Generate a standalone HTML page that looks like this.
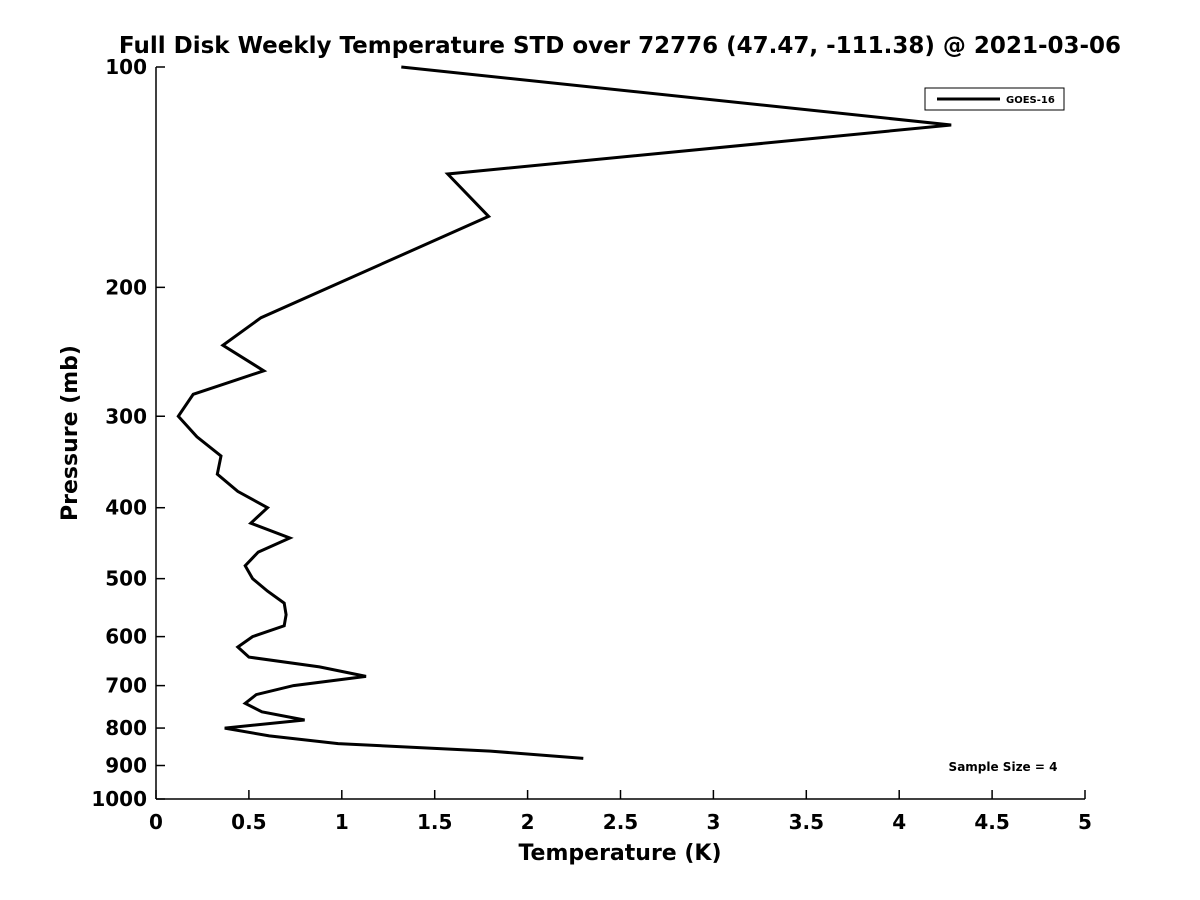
<!DOCTYPE html>
<html><head><meta charset="utf-8"><style>
body{margin:0;background:#fff;}
svg{display:block;font-family:"DejaVu Sans","Liberation Sans",sans-serif;font-weight:bold;}
</style></head><body>
<svg id="chart" width="1200" height="900" viewBox="0 0 1200 900">
<rect width="1200" height="900" fill="#fff"/>
<text x="620" y="53" text-anchor="middle" font-size="23">Full Disk Weekly Temperature STD over 72776 (47.47, -111.38) @ 2021-03-06</text>
<g id="axes"></g>
<path id="series" fill="none" stroke="#000" stroke-width="3" stroke-linejoin="miter"/>
<text x="620" y="860" text-anchor="middle" font-size="22">Temperature (K)</text>
<text transform="translate(77,433) rotate(-90)" text-anchor="middle" font-size="22">Pressure (mb)</text>
<g>
<rect x="925" y="88" width="139" height="22" fill="#fff" stroke="#000" stroke-width="1"/>
<line x1="937" y1="99" x2="1000" y2="99" stroke="#000" stroke-width="3"/>
<text x="1006" y="103" font-size="10">GOES-16</text>
</g>
<text x="1003" y="771" text-anchor="middle" font-size="12">Sample Size = 4</text>
</svg>
<script>
const pressures=[100,120,140,160,220,240,260,280,300,320,340,360,380,400,420,440,460,480,500,520,540,560,580,600,620,640,660,680,700,720,740,760,780,800,820,840,860,880];
const temps=[1.32,4.28,1.57,1.79,0.565,0.36,0.58,0.20,0.12,0.22,0.35,0.33,0.44,0.60,0.51,0.72,0.55,0.48,0.52,0.60,0.69,0.70,0.69,0.52,0.44,0.50,0.88,1.13,0.74,0.54,0.48,0.57,0.80,0.37,0.61,0.98,1.80,2.30];
const xTicks=[0,0.5,1,1.5,2,2.5,3,3.5,4,4.5,5];
const xTickLabels=["0","0.5","1","1.5","2","2.5","3","3.5","4","4.5","5"];
const yTicks=[100,200,300,400,500,600,700,800,900,1000];
const x0=156,x1=1085,y0=67,y1=799;
const xs=v=>x0+(v-0)/(5-0)*(x1-x0);
const ys=p=>y0+(Math.log10(p)-2)*(y1-y0);
const NS="http://www.w3.org/2000/svg";
const ax=document.getElementById('axes');
function mk(t,a){const e=document.createElementNS(NS,t);for(const k in a)e.setAttribute(k,a[k]);return e;}
const xl=mk('line',{x1:x0,y1:y1,x2:x1,y2:y1,stroke:'#000','stroke-width':1.5});


ax.appendChild(xl);
const yl=mk('line',{x1:x0,y1:y0,x2:x0,y2:y1,stroke:'#000','stroke-width':1.5});


ax.appendChild(yl);
xTicks.forEach((v,i)=>{
 const x=xs(v);
 const t=mk('line',{x1:x,y1:y1,x2:x,y2:y1-9,stroke:'#000','stroke-width':1.5});
 
 
 ax.appendChild(t);
 const l=mk('text',{x:x,y:y1+30,'text-anchor':'middle','font-size':20});
 
 
 l.textContent=xTickLabels[i];ax.appendChild(l);
});
yTicks.forEach(p=>{
 const y=ys(p);
 const t=mk('line',{x1:x0,y1:y,x2:x0+9,y2:y,stroke:'#000','stroke-width':1.5});
 
 
 ax.appendChild(t);
 const l=mk('text',{x:x0-9,y:y+7,'text-anchor':'end','font-size':20});
 
 
 l.textContent=p;ax.appendChild(l);
});
document.getElementById('series').setAttribute('d',pressures.map((p,i)=>(i?'L':'M')+xs(temps[i]).toFixed(1)+','+ys(p).toFixed(1)).join(''));
</script>
</body></html>
